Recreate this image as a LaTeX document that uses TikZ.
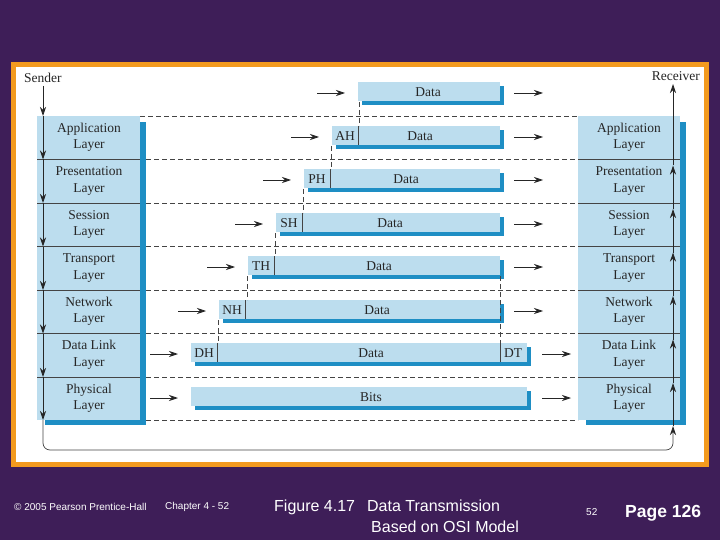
\documentclass[tikz,border=0pt]{standalone}
\usepackage{fontspec}
\setmainfont{Liberation Serif}
\newfontfamily\footfont{Liberation Sans}
\usetikzlibrary{arrows.meta}
\definecolor{bg}{HTML}{3E1E58}
\definecolor{orng}{HTML}{F39A1E}
\definecolor{lb}{HTML}{BCDDEE}
\definecolor{db}{HTML}{1E8EC4}
\definecolor{ln}{HTML}{444444}
\tikzset{
  lbl/.style={font=\fontsize{13.5}{16.5}\selectfont, text=black!85, align=center, inner sep=0},
  tag/.style={font=\fontsize{13.5}{14}\selectfont, text=black!85, inner sep=0},
  arr/.style={-{Stealth[length=9pt,width=6pt]}, black!85, line width=0.8pt},
  dsh/.style={dash pattern=on 5pt off 3pt, ln, line width=0.6pt},
  sep/.style={ln, line width=0.6pt},
  foot/.style={text=white, inner sep=0, anchor=west}
}
\newcommand{\mybar}[4]{% left, right, center y, name
  \fill[db] (#1+4,#3-7) rectangle (#2+4,#3+12);
  \fill[lb] (#1,#3-11) rectangle (#2,#3+8);
  \coordinate (#4L) at (#1,#3);
  \coordinate (#4R) at (#2+4,#3);
}
\begin{document}
\begin{tikzpicture}[x=1pt,y=-1pt]
\fill[bg] (0,0) rectangle (720,540);
\fill[orng] (11,62) rectangle (709,467);
\fill[white] (16,67) rectangle (704,462);
% stacks
\fill[db] (45,122) rectangle (146,425);
\fill[lb] (37,116) rectangle (140,420);
\fill[db] (586,122) rectangle (686,425);
\fill[lb] (578,116) rectangle (680,420);
% separators
\foreach \y in {159.5,203,246.5,290,333.5,377}{
  \draw[sep] (37,\y) -- (140,\y);
  \draw[sep] (578,\y) -- (680,\y);
  \draw[dsh] (146,\y) -- (578,\y);
}
\draw[dsh] (140,116) -- (578,116);
\draw[dsh] (146,420) -- (578,420);
% layer labels
\foreach \t [count=\i] in {Application\\Layer,Presentation\\Layer,Session\\Layer,Transport\\Layer,Network\\Layer,Data Link\\Layer,Physical\\Layer}{
  \node[lbl] (s\i) at (89,94+43.5*\i) {\t};
  \node[lbl] (r\i) at (629,94+43.5*\i) {\t};
}
\node[lbl,anchor=west] (sender) at (24,78) {Sender};
\node[lbl,anchor=east] (receiver) at (700,76) {Receiver};
% sender arrows
\coordinate (sa0) at (43,86);
\foreach \y [count=\i] in {116,159.5,203,246.5,290,333.5,377,420}{
  \coordinate (sa\i) at (43,\y);
}
\foreach \i [evaluate=\i as \j using int(\i-1)] in {1,...,8}{
  \draw[arr] (sa\j) -- (sa\i);
}
% receiver arrows
\coordinate (ra0) at (673,430);
\foreach \y [count=\i] in {426,383,339.5,296,252.5,209,165.5,84}{
  \coordinate (ra\i) at (673,\y);
}
\foreach \i [evaluate=\i as \j using int(\i-1)] in {1,...,8}{
  \draw[arr] (ra\j) -- (ra\i);
}
\coordinate (lp1) at (43,420);
\coordinate (lp2) at (673,432);
\draw[ln, line width=0.7pt, rounded corners=7pt] (lp1) -- (43,450) -- (673,450) -- (lp2);
% bars
\mybar{358}{500}{93}{b0}
\mybar{332}{500}{137}{b1}
\mybar{304}{500}{180}{b2}
\mybar{276}{500}{224}{b3}
\mybar{248}{500}{267}{b4}
\mybar{219}{500}{311}{b5}
\mybar{191}{527}{354}{b6}
\mybar{191}{527}{398}{b7}
% header dividers
\foreach \x/\y in {358/137,330/180,302/224,274/267,245/311,217/354}{
  \draw[ln, line width=0.6pt] (\x,\y-11) -- (\x,\y+8);
}
\draw[ln, line width=0.6pt] (500,343) -- (500,362);
% vertical dashed
\foreach \x/\ya/\yb in {359/102/126,331/146/169,303/189/213,275/233/256,247/276/300,218/320/343}{
  \draw[dsh] (\x,\ya) -- (\x,\yb);
}
\draw[dsh] (500,276) -- (500,343);
% texts
\node[tag] (d0) at (428,92) {Data};
\node[tag] (h1) at (345,136) {AH}; \node[tag] (d1) at (420,136) {Data};
\node[tag] (h2) at (317,179) {PH}; \node[tag] (d2) at (406,179) {Data};
\node[tag] (h3) at (289,223) {SH}; \node[tag] (d3) at (390,223) {Data};
\node[tag] (h4) at (261,266) {TH}; \node[tag] (d4) at (379,266) {Data};
\node[tag] (h5) at (232,310) {NH}; \node[tag] (d5) at (377,310) {Data};
\node[tag] (h6) at (204,353) {DH}; \node[tag] (d6) at (371,353) {Data};
\node[tag] (t6) at (513,353) {DT};
\node[tag] (d7) at (371,397) {Bits};
% in/out arrows
\foreach \i/\l/\yy in {0/358/93,1/332/137,2/304/180,3/276/224,4/248/267,5/219/311,6/191/354,7/191/398}{
  \coordinate (in\i a) at (\l-41,\yy);
  \coordinate (in\i b) at (\l-13,\yy);
  \draw[arr] (in\i a) -- (in\i b);
}
\foreach \i/\yy in {0/93,1/137,2/180,3/224,4/267,5/311}{
  \coordinate (out\i a) at (514,\yy); \coordinate (out\i b) at (543,\yy);
  \draw[arr] (out\i a) -- (out\i b);
}
\foreach \i/\yy in {6/354,7/398}{
  \coordinate (out\i a) at (542,\yy); \coordinate (out\i b) at (571,\yy);
  \draw[arr] (out\i a) -- (out\i b);
}
% footer
\node[foot,font=\footfont\fontsize{10}{12}\selectfont] (f1) at (14,507) {© 2005 Pearson Prentice-Hall};
\node[foot,font=\footfont\fontsize{10}{12}\selectfont] (f2) at (165,507) {Chapter 4 - 52};
\node[foot,font=\footfont\fontsize{16}{19}\selectfont] (f3) at (274,507) {Figure 4.17\hspace{12pt}Data Transmission};
\node[foot,font=\footfont\fontsize{16}{19}\selectfont] (f4) at (371,527) {Based on OSI Model};
\node[foot,font=\footfont\fontsize{10}{12}\selectfont] (f5) at (586,512) {52};
\node[foot,font=\footfont\bfseries\fontsize{17.5}{21}\selectfont] (f6) at (625,513) {Page 126};
\end{tikzpicture}
\end{document}
